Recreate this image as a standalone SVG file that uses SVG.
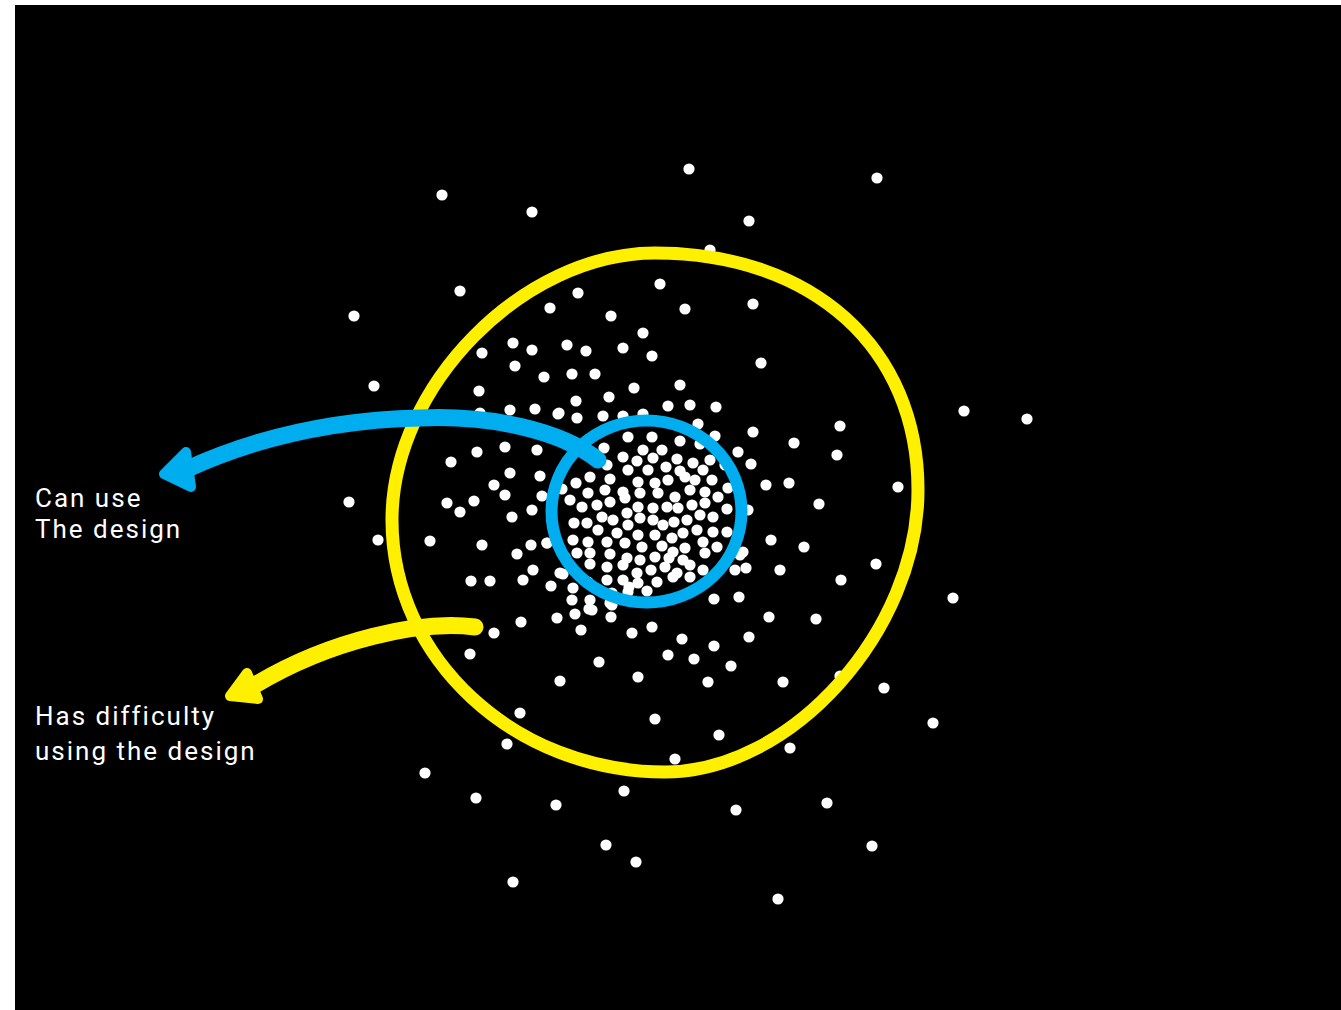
<svg xmlns="http://www.w3.org/2000/svg" width="1341" height="1010" viewBox="0 0 1341 1010">
<style>
.bg{fill:#000}
.d{fill:#fff}
.ring{fill:none}
.yl{stroke:#FFF000}
.bl{stroke:#00AEEF}
.shaft{fill:none;stroke-linecap:round;stroke-width:17}
.head{stroke-width:10;stroke-linejoin:round}
.lbl{font-family:Roboto,"Liberation Sans",sans-serif;font-size:26px;fill:#fff;letter-spacing:2px}
</style>
<rect width="1341" height="1010" fill="#fff"/>
<rect class="bg" x="15" y="5" width="1326" height="1005"/>
<g id="dots">
<circle class="d" r="5.6" cx="442" cy="195"/><circle class="d" r="5.6" cx="532" cy="212"/><circle class="d" r="5.6" cx="689" cy="169"/><circle class="d" r="5.6" cx="877" cy="178"/><circle class="d" r="5.6" cx="749" cy="221"/><circle class="d" r="5.6" cx="710" cy="250"/><circle class="d" r="5.6" cx="460" cy="291"/><circle class="d" r="5.6" cx="354" cy="316"/><circle class="d" r="5.6" cx="374" cy="386"/><circle class="d" r="5.6" cx="349" cy="502"/><circle class="d" r="5.6" cx="378" cy="540"/><circle class="d" r="5.6" cx="964" cy="411"/><circle class="d" r="5.6" cx="1027" cy="419"/><circle class="d" r="5.6" cx="953" cy="598"/><circle class="d" r="5.6" cx="884" cy="688"/><circle class="d" r="5.6" cx="933" cy="723"/><circle class="d" r="5.6" cx="840" cy="676"/><circle class="d" r="5.6" cx="833" cy="307"/><circle class="d" r="5.6" cx="790" cy="748"/><circle class="d" r="5.6" cx="425" cy="773"/><circle class="d" r="5.6" cx="476" cy="798"/><circle class="d" r="5.6" cx="556" cy="805"/><circle class="d" r="5.6" cx="624" cy="791"/><circle class="d" r="5.6" cx="606" cy="845"/><circle class="d" r="5.6" cx="636" cy="862"/><circle class="d" r="5.6" cx="513" cy="882"/><circle class="d" r="5.6" cx="736" cy="810"/><circle class="d" r="5.6" cx="827" cy="803"/><circle class="d" r="5.6" cx="872" cy="846"/><circle class="d" r="5.6" cx="778" cy="899"/><circle class="d" r="5.6" cx="675" cy="759"/><circle class="d" r="5.6" cx="507" cy="744"/><circle class="d" r="5.6" cx="520" cy="713"/><circle class="d" r="5.6" cx="430" cy="541"/><circle class="d" r="5.6" cx="493" cy="318"/>
<circle class="d" r="5.6" cx="578" cy="293"/><circle class="d" r="5.6" cx="550" cy="308"/><circle class="d" r="5.6" cx="611" cy="316"/><circle class="d" r="5.6" cx="660" cy="284"/><circle class="d" r="5.6" cx="685" cy="309"/><circle class="d" r="5.6" cx="753" cy="304"/><circle class="d" r="5.6" cx="761" cy="363"/><circle class="d" r="5.6" cx="643" cy="333"/><circle class="d" r="5.6" cx="513" cy="343"/><circle class="d" r="5.6" cx="532" cy="350"/><circle class="d" r="5.6" cx="567" cy="345"/><circle class="d" r="5.6" cx="586" cy="351"/><circle class="d" r="5.6" cx="623" cy="348"/><circle class="d" r="5.6" cx="652" cy="356"/><circle class="d" r="5.6" cx="482" cy="353"/><circle class="d" r="5.6" cx="515" cy="366"/><circle class="d" r="5.6" cx="544" cy="377"/><circle class="d" r="5.6" cx="572" cy="374"/><circle class="d" r="5.6" cx="595" cy="374"/><circle class="d" r="5.6" cx="479" cy="391"/><circle class="d" r="5.6" cx="576" cy="401"/><circle class="d" r="5.6" cx="609" cy="397"/><circle class="d" r="5.6" cx="634" cy="388"/><circle class="d" r="5.6" cx="680" cy="385"/><circle class="d" r="5.6" cx="510" cy="410"/><circle class="d" r="5.6" cx="535" cy="409"/><circle class="d" r="5.6" cx="559" cy="413"/><circle class="d" r="5.6" cx="577" cy="418"/><circle class="d" r="5.6" cx="603" cy="416"/><circle class="d" r="5.6" cx="623" cy="416"/><circle class="d" r="5.6" cx="643" cy="414"/><circle class="d" r="5.6" cx="668" cy="406"/><circle class="d" r="5.6" cx="690" cy="405"/><circle class="d" r="5.6" cx="716" cy="407"/><circle class="d" r="5.6" cx="698" cy="424"/><circle class="d" r="5.6" cx="715" cy="436"/><circle class="d" r="5.6" cx="680" cy="441"/><circle class="d" r="5.6" cx="628" cy="437"/><circle class="d" r="5.6" cx="652" cy="437"/><circle class="d" r="5.6" cx="480" cy="413"/>
<circle class="d" r="5.6" cx="477" cy="452"/><circle class="d" r="5.6" cx="451" cy="462"/><circle class="d" r="5.6" cx="505" cy="447"/><circle class="d" r="5.6" cx="537" cy="450"/><circle class="d" r="5.6" cx="510" cy="473"/><circle class="d" r="5.6" cx="540" cy="476"/><circle class="d" r="5.6" cx="494" cy="485"/><circle class="d" r="5.6" cx="505" cy="495"/><circle class="d" r="5.6" cx="542" cy="496"/><circle class="d" r="5.6" cx="447" cy="503"/><circle class="d" r="5.6" cx="460" cy="512"/><circle class="d" r="5.6" cx="474" cy="501"/><circle class="d" r="5.6" cx="512" cy="517"/><circle class="d" r="5.6" cx="532" cy="510"/><circle class="d" r="5.6" cx="482" cy="545"/><circle class="d" r="5.6" cx="531" cy="545"/><circle class="d" r="5.6" cx="547" cy="543"/><circle class="d" r="5.6" cx="517" cy="554"/><circle class="d" r="5.6" cx="533" cy="570"/><circle class="d" r="5.6" cx="523" cy="580"/><circle class="d" r="5.6" cx="563" cy="574"/><circle class="d" r="5.6" cx="471" cy="581"/><circle class="d" r="5.6" cx="490" cy="581"/><circle class="d" r="5.6" cx="551" cy="586"/><circle class="d" r="5.6" cx="573" cy="588"/><circle class="d" r="5.6" cx="572" cy="600"/><circle class="d" r="5.6" cx="589" cy="609"/><circle class="d" r="5.6" cx="575" cy="614"/><circle class="d" r="5.6" cx="557" cy="618"/><circle class="d" r="5.6" cx="521" cy="622"/><circle class="d" r="5.6" cx="494" cy="633"/><circle class="d" r="5.6" cx="581" cy="630"/><circle class="d" r="5.6" cx="611" cy="617"/><circle class="d" r="5.6" cx="632" cy="633"/><circle class="d" r="5.6" cx="652" cy="627"/><circle class="d" r="5.6" cx="629" cy="587"/><circle class="d" r="5.6" cx="647" cy="591"/><circle class="d" r="5.6" cx="610" cy="603"/><circle class="d" r="5.6" cx="470" cy="654"/><circle class="d" r="5.6" cx="599" cy="662"/><circle class="d" r="5.6" cx="668" cy="655"/><circle class="d" r="5.6" cx="638" cy="677"/><circle class="d" r="5.6" cx="560" cy="681"/><circle class="d" r="5.6" cx="655" cy="719"/>
<circle class="d" r="5.6" cx="714" cy="599"/><circle class="d" r="5.6" cx="739" cy="597"/><circle class="d" r="5.6" cx="769" cy="617"/><circle class="d" r="5.6" cx="816" cy="619"/><circle class="d" r="5.6" cx="682" cy="639"/><circle class="d" r="5.6" cx="749" cy="637"/><circle class="d" r="5.6" cx="714" cy="646"/><circle class="d" r="5.6" cx="694" cy="659"/><circle class="d" r="5.6" cx="731" cy="666"/><circle class="d" r="5.6" cx="708" cy="682"/><circle class="d" r="5.6" cx="783" cy="682"/><circle class="d" r="5.6" cx="719" cy="735"/><circle class="d" r="5.6" cx="753" cy="432"/><circle class="d" r="5.6" cx="794" cy="443"/><circle class="d" r="5.6" cx="840" cy="426"/><circle class="d" r="5.6" cx="837" cy="455"/><circle class="d" r="5.6" cx="751" cy="464"/><circle class="d" r="5.6" cx="766" cy="485"/><circle class="d" r="5.6" cx="789" cy="483"/><circle class="d" r="5.6" cx="819" cy="504"/><circle class="d" r="5.6" cx="898" cy="487"/><circle class="d" r="5.6" cx="771" cy="540"/><circle class="d" r="5.6" cx="804" cy="547"/><circle class="d" r="5.6" cx="743" cy="552"/><circle class="d" r="5.6" cx="746" cy="568"/><circle class="d" r="5.6" cx="780" cy="570"/><circle class="d" r="5.6" cx="876" cy="564"/><circle class="d" r="5.6" cx="841" cy="580"/><circle class="d" r="5.6" cx="700" cy="444"/><circle class="d" r="5.6" cx="738" cy="452"/><circle class="d" r="5.6" cx="748" cy="510"/><circle class="d" r="5.6" cx="558" cy="414"/>
<circle class="d" r="5.6" cx="604" cy="448"/><circle class="d" r="5.6" cx="643" cy="450"/><circle class="d" r="5.6" cx="662" cy="450"/><circle class="d" r="5.6" cx="677" cy="459"/><circle class="d" r="5.6" cx="693" cy="463"/><circle class="d" r="5.6" cx="710" cy="460"/><circle class="d" r="5.6" cx="703" cy="470"/><circle class="d" r="5.6" cx="725" cy="465"/><circle class="d" r="5.6" cx="623" cy="457"/><circle class="d" r="5.6" cx="637" cy="461"/><circle class="d" r="5.6" cx="653" cy="458"/><circle class="d" r="5.6" cx="666" cy="467"/><circle class="d" r="5.6" cx="680" cy="471"/><circle class="d" r="5.6" cx="607" cy="465"/><circle class="d" r="5.6" cx="628" cy="470"/><circle class="d" r="5.6" cx="648" cy="470"/><circle class="d" r="5.6" cx="590" cy="477"/><circle class="d" r="5.6" cx="610" cy="479"/><circle class="d" r="5.6" cx="638" cy="482"/><circle class="d" r="5.6" cx="655" cy="483"/><circle class="d" r="5.6" cx="668" cy="480"/><circle class="d" r="5.6" cx="685" cy="477"/><circle class="d" r="5.6" cx="695" cy="480"/><circle class="d" r="5.6" cx="712" cy="480"/><circle class="d" r="5.6" cx="576" cy="483"/><circle class="d" r="5.6" cx="562" cy="489"/><circle class="d" r="5.6" cx="588" cy="493"/><circle class="d" r="5.6" cx="605" cy="490"/><circle class="d" r="5.6" cx="623" cy="492"/><circle class="d" r="5.6" cx="640" cy="493"/><circle class="d" r="5.6" cx="658" cy="493"/><circle class="d" r="5.6" cx="675" cy="497"/><circle class="d" r="5.6" cx="690" cy="490"/><circle class="d" r="5.6" cx="705" cy="492"/><circle class="d" r="5.6" cx="728" cy="488"/><circle class="d" r="5.6" cx="718" cy="497"/><circle class="d" r="5.6" cx="570" cy="500"/><circle class="d" r="5.6" cx="582" cy="507"/><circle class="d" r="5.6" cx="597" cy="505"/><circle class="d" r="5.6" cx="610" cy="502"/><circle class="d" r="5.6" cx="625" cy="498"/><circle class="d" r="5.6" cx="638" cy="507"/><circle class="d" r="5.6" cx="653" cy="508"/><circle class="d" r="5.6" cx="667" cy="507"/><circle class="d" r="5.6" cx="678" cy="508"/><circle class="d" r="5.6" cx="692" cy="505"/><circle class="d" r="5.6" cx="705" cy="503"/><circle class="d" r="5.6" cx="713" cy="517"/><circle class="d" r="5.6" cx="727" cy="509"/>
<circle class="d" r="5.6" cx="574" cy="523"/><circle class="d" r="5.6" cx="587" cy="523"/><circle class="d" r="5.6" cx="602" cy="517"/><circle class="d" r="5.6" cx="613" cy="520"/><circle class="d" r="5.6" cx="627" cy="513"/><circle class="d" r="5.6" cx="640" cy="518"/><circle class="d" r="5.6" cx="653" cy="520"/><circle class="d" r="5.6" cx="663" cy="525"/><circle class="d" r="5.6" cx="674" cy="522"/><circle class="d" r="5.6" cx="687" cy="520"/><circle class="d" r="5.6" cx="700" cy="515"/><circle class="d" r="5.6" cx="573" cy="540"/><circle class="d" r="5.6" cx="588" cy="542"/><circle class="d" r="5.6" cx="598" cy="530"/><circle class="d" r="5.6" cx="617" cy="533"/><circle class="d" r="5.6" cx="628" cy="525"/><circle class="d" r="5.6" cx="638" cy="535"/><circle class="d" r="5.6" cx="655" cy="535"/><circle class="d" r="5.6" cx="672" cy="538"/><circle class="d" r="5.6" cx="683" cy="533"/><circle class="d" r="5.6" cx="697" cy="530"/><circle class="d" r="5.6" cx="713" cy="532"/><circle class="d" r="5.6" cx="727" cy="532"/><circle class="d" r="5.6" cx="577" cy="553"/><circle class="d" r="5.6" cx="590" cy="553"/><circle class="d" r="5.6" cx="607" cy="542"/><circle class="d" r="5.6" cx="625" cy="543"/><circle class="d" r="5.6" cx="642" cy="547"/><circle class="d" r="5.6" cx="662" cy="546"/><circle class="d" r="5.6" cx="673" cy="552"/><circle class="d" r="5.6" cx="685" cy="548"/><circle class="d" r="5.6" cx="703" cy="542"/><circle class="d" r="5.6" cx="717" cy="547"/><circle class="d" r="5.6" cx="565" cy="557"/><circle class="d" r="5.6" cx="610" cy="554"/><circle class="d" r="5.6" cx="627" cy="558"/><circle class="d" r="5.6" cx="640" cy="560"/><circle class="d" r="5.6" cx="655" cy="557"/><circle class="d" r="5.6" cx="669" cy="558"/><circle class="d" r="5.6" cx="683" cy="560"/><circle class="d" r="5.6" cx="705" cy="553"/><circle class="d" r="5.6" cx="590" cy="564"/><circle class="d" r="5.6" cx="607" cy="567"/><circle class="d" r="5.6" cx="623" cy="565"/><circle class="d" r="5.6" cx="637" cy="573"/><circle class="d" r="5.6" cx="651" cy="570"/><circle class="d" r="5.6" cx="665" cy="567"/><circle class="d" r="5.6" cx="677" cy="573"/><circle class="d" r="5.6" cx="690" cy="565"/><circle class="d" r="5.6" cx="703" cy="570"/><circle class="d" r="5.6" cx="588" cy="582"/><circle class="d" r="5.6" cx="607" cy="580"/><circle class="d" r="5.6" cx="623" cy="580"/><circle class="d" r="5.6" cx="638" cy="583"/><circle class="d" r="5.6" cx="657" cy="582"/><circle class="d" r="5.6" cx="673" cy="577"/><circle class="d" r="5.6" cx="690" cy="577"/><circle class="d" r="5.6" cx="560" cy="573"/><circle class="d" r="5.6" cx="590" cy="600"/><circle class="d" r="5.6" cx="612" cy="593"/><circle class="d" r="5.6" cx="628" cy="592"/><circle class="d" r="5.6" cx="690" cy="592"/><circle class="d" r="5.6" cx="735" cy="570"/><circle class="d" r="5.6" cx="740" cy="555"/><circle class="d" r="5.6" cx="592" cy="610"/><circle class="d" r="5.6" cx="612" cy="605"/><circle class="d" r="5.6" cx="547" cy="543"/>
</g>
<g id="node-difficulty-group">
<path class="ring yl" stroke-width="13" d="M655,253 C813,253 918,348 918,490 C918,631 791,772 665,772 C515,772 392,659 392,520 C392,386 523,253 655,253 Z"/>
</g>
<g id="node-can-use-group">
<ellipse class="ring bl" stroke-width="12" cx="646.5" cy="511.5" rx="95" ry="91"/>
</g>
<g id="connectors">
<path class="shaft bl" d="M598,460 C560,430 490,415 420,418 C330,420 250,440 185,470"/>
<polygon class="head bl" fill="#00AEEF" points="164,474 186,452 191,487"/>
<path class="shaft yl" d="M475,627 C420,620 330,640 255,685"/>
<polygon class="head yl" fill="#FFF000" points="230,696 247,673 258,699"/>
</g>
<g id="label-can-use">
<text class="lbl" x="35" y="507">Can use</text>
<text class="lbl" x="35" y="538">The design</text>
</g>
<g id="label-difficulty">
<text class="lbl" x="35" y="725">Has difficulty</text>
<text class="lbl" x="35" y="760">using the design</text>
</g>
</svg>
